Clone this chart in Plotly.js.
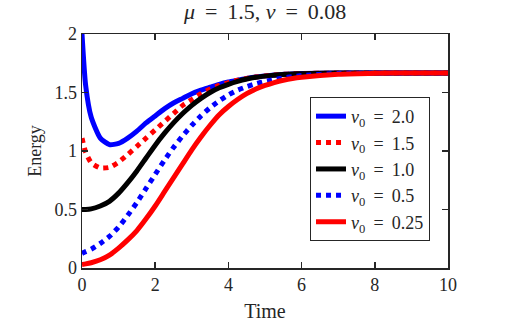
<!DOCTYPE html>
<html>
<head>
<meta charset="utf-8">
<script src="https://cdn.plot.ly/plotly-3.0.1.min.js"></script>
<style>
  body { margin: 0; background: #fff; }
  #energyGraph { width: 518px; height: 326px; }
</style>
</head>
<body>
<div id="energyGraph"></div>
<script>
// time samples shared by all curves
var times = [0, 0.1, 0.25, 0.5, 0.75, 1, 1.25, 1.5, 1.75, 2, 2.25, 2.5, 2.75, 3, 3.25, 3.5, 3.75, 4, 4.25, 4.5, 4.75, 5, 5.25, 5.5, 5.75, 6, 7, 8, 9, 10];

// energy, one array per initial velocity
var energyV20 = [2.0, 1.56, 1.29, 1.11, 1.055, 1.065, 1.11, 1.17, 1.24, 1.30, 1.36, 1.41, 1.45, 1.49, 1.52, 1.545, 1.57, 1.59, 1.605, 1.62, 1.632, 1.642, 1.65, 1.655, 1.659, 1.662, 1.666, 1.667, 1.667, 1.667];
var energyV15 = [1.11, 0.99, 0.90, 0.855, 0.86, 0.905, 0.97, 1.04, 1.11, 1.18, 1.25, 1.32, 1.39, 1.44, 1.49, 1.53, 1.56, 1.585, 1.605, 1.62, 1.632, 1.642, 1.65, 1.655, 1.659, 1.662, 1.666, 1.667, 1.667, 1.667];
var energyV10 = [0.50, 0.50, 0.505, 0.53, 0.57, 0.64, 0.73, 0.83, 0.94, 1.05, 1.15, 1.24, 1.32, 1.39, 1.45, 1.50, 1.54, 1.57, 1.595, 1.615, 1.63, 1.64, 1.648, 1.654, 1.658, 1.661, 1.666, 1.667, 1.667, 1.667];
var energyV05 = [0.125, 0.14, 0.16, 0.21, 0.27, 0.35, 0.45, 0.56, 0.68, 0.80, 0.92, 1.03, 1.13, 1.22, 1.30, 1.37, 1.43, 1.48, 1.52, 1.55, 1.575, 1.595, 1.61, 1.625, 1.635, 1.645, 1.662, 1.666, 1.667, 1.667];
var energyV025 = [0.03, 0.035, 0.045, 0.07, 0.11, 0.17, 0.24, 0.32, 0.42, 0.53, 0.65, 0.77, 0.89, 1.01, 1.12, 1.22, 1.31, 1.38, 1.44, 1.49, 1.53, 1.56, 1.585, 1.605, 1.62, 1.63, 1.655, 1.664, 1.667, 1.667];

var legendNames = ['2.0', '1.5', '1.0', '0.5', '0.25'];

const serif = 'Liberation Serif';
const eq = '\u2009 = \u2009';  // wider math-style spacing around "="

function makeTrace(y, name, color, dash) {
    return {
        x: times,
        y: y,
        mode: 'lines',
        type: 'scatter',
        name: '<i>v</i><sub>0</sub>' + eq + name,
        line: { color: color, width: 5, dash: dash, shape: 'spline', smoothing: 0.6 },
    };
}

const data = [
    makeTrace(energyV20, legendNames[0], '#0000ff', 'solid'),
    makeTrace(energyV15, legendNames[1], '#ff0000', 'dot'),
    makeTrace(energyV10, legendNames[2], '#000000', 'solid'),
    makeTrace(energyV05, legendNames[3], '#0000ff', 'dot'),
    makeTrace(energyV025, legendNames[4], '#ff0000', 'solid'),
];

const axisStyle = {
    showline: true,
    linecolor: '#262626',
    linewidth: 1.5,
    mirror: 'ticks',
    ticks: 'inside',
    ticklen: 6,
    tickwidth: 1.5,
    tickcolor: '#262626',
    showgrid: false,
    zeroline: false,
    tickfont: { family: serif, size: 18, color: '#262626' },
};

const layout = {
    width: 518,
    height: 326,
    margin: { l: 82, r: 70, t: 34, b: 58 },
    font: { family: serif, size: 18, color: '#262626' },
    paper_bgcolor: '#ffffff',
    plot_bgcolor: '#ffffff',
    showlegend: true,
    title: {
        text: '<i>μ</i>' + eq + '1.5, <i>ν</i>' + eq + '0.08',
        font: { family: serif, size: 22, color: '#262626' },
        x: 0.512, xanchor: 'center',
        y: 0.99, yanchor: 'top',
    },
    xaxis: Object.assign({}, axisStyle, {
        range: [0, 10],
        dtick: 2,
        title: { text: 'Time', font: { family: serif, size: 20, color: '#262626' }, standoff: 10 },
    }),
    yaxis: Object.assign({}, axisStyle, {
        range: [0, 2],
        dtick: 0.5,
        title: { text: 'Energy', font: { family: serif, size: 18, color: '#262626' }, standoff: 8 },
    }),
    legend: {
        x: 0.623, y: 0.731,
        xanchor: 'left', yanchor: 'top',
        bgcolor: '#ffffff',
        bordercolor: '#262626',
        borderwidth: 1,
        font: { family: serif, size: 18, color: '#262626' },
        itemwidth: 30,
        tracegroupgap: 0,
    },
};

Plotly.newPlot('energyGraph', data, layout, { displayModeBar: false, staticPlot: true });
</script>
</body>
</html>
